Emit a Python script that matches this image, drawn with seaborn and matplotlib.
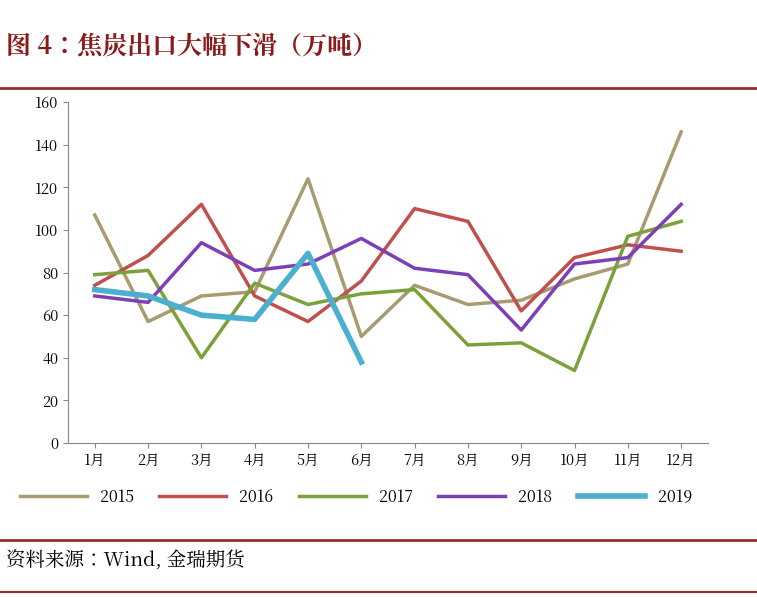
import matplotlib
matplotlib.use("Agg")
import matplotlib.pyplot as plt
from matplotlib import font_manager as fm
import seaborn as sns
import pandas as pd
from matplotlib.lines import Line2D

cjk = None
for f in fm.findSystemFonts():
    if "CJK" in f or "cjk" in f.lower():
        cjk = f
        if "SC" in f or "Regular" in f:
            break
if cjk:
    fm.fontManager.addfont(cjk)
    name = fm.FontProperties(fname=cjk).get_name()
    plt.rcParams["font.family"] = [name, "DejaVu Sans"]
else:
    plt.rcParams["font.family"] = ["Noto Sans CJK JP", "DejaVu Sans"]

months = ["1月","2月","3月","4月","5月","6月","7月","8月","9月","10月","11月","12月"]
y2015 = [107, 57, 69, 71, 124, 50, 74, 65, 67, 77, 84, 146]
y2016 = [74, 88, 112, 69, 57, 76, 110, 104, 62, 87, 93, 90]
y2017 = [79, 81, 40, 75, 65, 70, 72, 46, 47, 34, 97, 104]
y2018 = [69, 66, 94, 81, 84, 96, 82, 79, 53, 84, 87, 112]
y2019 = [72, 69, 60, 58, 89, 38]
series = {"2015": y2015, "2016": y2016, "2017": y2017, "2018": y2018, "2019": y2019}
colors = {"2015": "#A89B72", "2016": "#C0504D", "2017": "#7BA13C", "2018": "#7D3FB8", "2019": "#4BB0D0"}

rows = []
for k, v in series.items():
    for i, val in enumerate(v):
        rows.append({"year": k, "m": i + 1, "val": val})
df = pd.DataFrame(rows)

fig = plt.figure(figsize=(7.57, 5.97), dpi=100)
ax = fig.add_axes([0.09, 0.258, 0.845, 0.571])
for k in series:
    d = df[df.year == k]
    sns.lineplot(data=d, x="m", y="val", ax=ax, color=colors[k],
                 linewidth=4 if k == "2019" else 2.5, legend=False)
ax.set_xlim(0.5, 12.5)
ax.set_ylim(0, 160)
ax.set_yticks(range(0, 161, 20))
ax.set_xticks(range(1, 13))
ax.set_xticklabels(months)
ax.set_xlabel(""); ax.set_ylabel("")
for s in ["top", "right"]:
    ax.spines[s].set_visible(False)
for s in ["left", "bottom"]:
    ax.spines[s].set_color("#888888")
ax.tick_params(labelsize=10.5, colors="black")
ax.tick_params(axis="both", color="#888888")

handles = [Line2D([], [], color=colors[k], lw=4 if k == "2019" else 2.5) for k in series]
fig.legend(handles, list(series), loc="center", bbox_to_anchor=(0.47, 0.167),
           ncol=5, frameon=False, fontsize=11.5, handlelength=4.2, columnspacing=1.6,
           handletextpad=0.8)

fig.text(0.008, 0.92, "图 4：焦炭出口大幅下滑（万吨）", fontsize=18, fontweight="bold",
         color="#8B1A1A", va="center")
fig.add_artist(Line2D([0, 1], [0.853, 0.853], color="#9B2C2C", lw=2))
fig.add_artist(Line2D([0, 1], [0.095, 0.095], color="#9B2C2C", lw=2))
fig.add_artist(Line2D([0, 1], [0.008, 0.008], color="#9B2C2C", lw=1.5))
fig.text(0.008, 0.06, "资料来源：Wind, 金瑞期货", fontsize=14, va="center")
fig.savefig("out.png", dpi=100)
